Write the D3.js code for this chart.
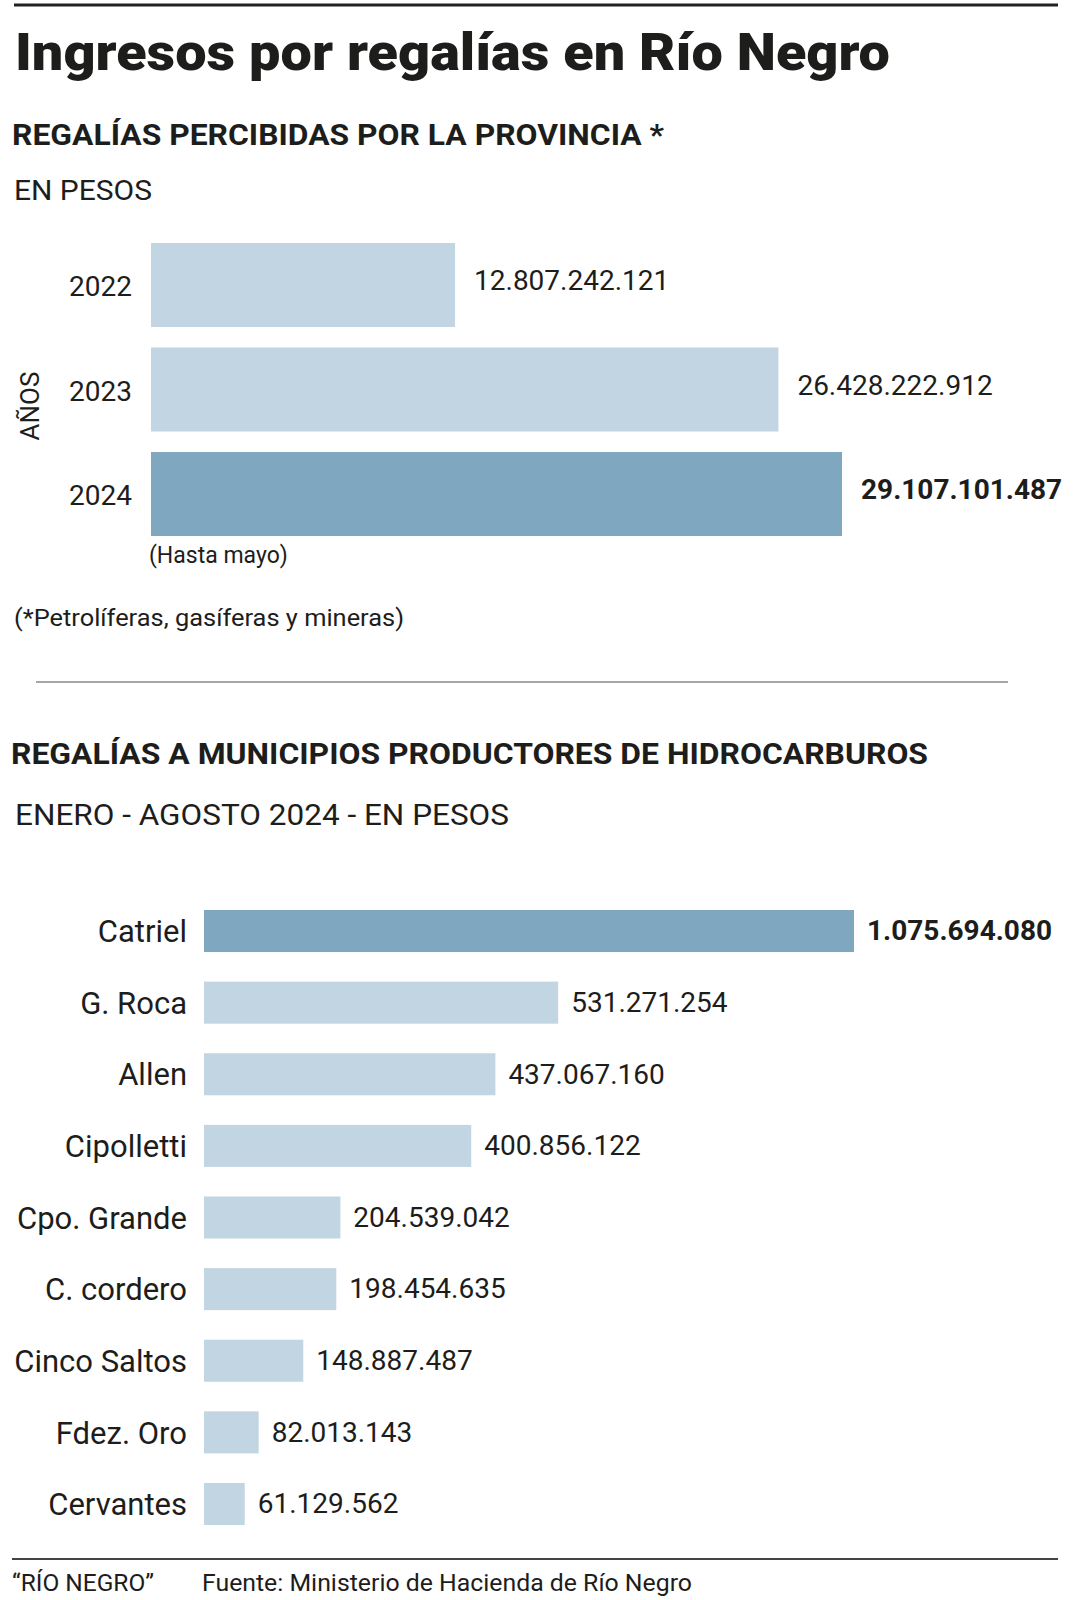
<!DOCTYPE html>
<html>
<head>
<meta charset="utf-8">
<script src="https://cdn.jsdelivr.net/npm/d3@7"></script>
<style>
  body { margin: 0; background: #fff; }
  text { font-family: Roboto, "Liberation Sans", sans-serif; fill: #1d1d1b; }
</style>
</head>
<body>
<script>
const years = ['2022', '2023', '2024'];
const provinceValues = [12807242121, 26428222912, 29107101487];
const highlightYear = '2024';

const municipalities = ['Catriel', 'G. Roca', 'Allen', 'Cipolletti', 'Cpo. Grande',
                        'C. cordero', 'Cinco Saltos', 'Fdez. Oro', 'Cervantes'];
const municipalValues = [1075694080, 531271254, 437067160, 400856122, 204539042,
                         198454635, 148887487, 82013143, 61129562];
const highlightMunicipality = 'Catriel';

const width = 1074;
const height = 1600;
const lightBlue = '#c2d5e3';
const darkBlue = '#7fa8c0';

// Spanish number format: 12.807.242.121
const fmt = d3.formatLocale({ decimal: ',', thousands: '.', grouping: [3], currency: ['$', ''] }).format(',d');

const svg = d3.select('body')
    .append('svg')
    .attr('width', width)
    .attr('height', height);

// Header rule
svg.append('line')
    .attr('x1', 14).attr('x2', 1058)
    .attr('y1', 5).attr('y2', 5)
    .attr('stroke', '#222').attr('stroke-width', 3);

svg.append('text')
    .attr('x', 15).attr('y', 70)
    .attr('font-size', 52).attr('font-weight', 900)
    .attr('textLength', 875).attr('lengthAdjust', 'spacingAndGlyphs')
    .text('Ingresos por regalías en Río Negro');

// ---------- Chart 1: provincia ----------
svg.append('text')
    .attr('x', 12).attr('y', 145)
    .attr('font-size', 29).attr('font-weight', 700)
    .attr('textLength', 652).attr('lengthAdjust', 'spacingAndGlyphs')
    .text('REGALÍAS PERCIBIDAS POR LA PROVINCIA *');

svg.append('text')
    .attr('x', 14).attr('y', 200)
    .attr('font-size', 28)
    .attr('textLength', 138).attr('lengthAdjust', 'spacingAndGlyphs')
    .text('EN PESOS');

const y1 = d3.scaleBand()
    .domain(years)
    .range([243, 536])
    .paddingInner(0.196);

const x1 = d3.scaleLinear()
    .domain([0, d3.max(provinceValues)])
    .range([151, 842]);

const rows1 = years.map((y, i) => ({ year: y, value: provinceValues[i] }));

svg.selectAll('.bar1')
    .data(rows1)
    .enter()
    .append('rect')
    .attr('class', 'bar1')
    .attr('x', x1(0))
    .attr('y', d => y1(d.year))
    .attr('width', d => x1(d.value) - x1(0))
    .attr('height', y1.bandwidth())
    .attr('fill', d => d.year === highlightYear ? darkBlue : lightBlue);

svg.selectAll('.val1')
    .data(rows1)
    .enter()
    .append('text')
    .attr('class', 'val1')
    .attr('x', d => x1(d.value) + 19)
    .attr('y', d => y1(d.year) + y1.bandwidth() / 2)
    .attr('dy', '0.18em')
    .attr('font-size', 28)
    .attr('font-weight', d => d.year === highlightYear ? 700 : 400)
    .text(d => fmt(d.value));

const yAxis1 = svg.append('g')
    .attr('transform', `translate(${x1(0)},0)`)
    .call(d3.axisLeft(y1).tickSize(0).tickPadding(19));
yAxis1.select('.domain').remove();
yAxis1.selectAll('text')
    .attr('font-size', 28)
    .attr('font-family', null)
    .attr('dy', '0.4em')
    .style('fill', '#1d1d1b');

svg.append('text')
    .attr('transform', 'translate(30,406) rotate(-90)')
    .attr('text-anchor', 'middle')
    .attr('dy', '0.35em')
    .attr('font-size', 26)
    .text('AÑOS');

svg.append('text')
    .attr('x', 149).attr('y', 563)
    .attr('font-size', 23)
    .text('(Hasta mayo)');

svg.append('text')
    .attr('x', 14).attr('y', 626)
    .attr('font-size', 23)
    .attr('textLength', 390).attr('lengthAdjust', 'spacingAndGlyphs')
    .text('(*Petrolíferas, gasíferas y mineras)');

// Separator
svg.append('line')
    .attr('x1', 36).attr('x2', 1008)
    .attr('y1', 682).attr('y2', 682)
    .attr('stroke', '#888').attr('stroke-width', 1.5);

// ---------- Chart 2: municipios ----------
svg.append('text')
    .attr('x', 11).attr('y', 764)
    .attr('font-size', 29).attr('font-weight', 700)
    .attr('textLength', 917).attr('lengthAdjust', 'spacingAndGlyphs')
    .text('REGALÍAS A MUNICIPIOS PRODUCTORES DE HIDROCARBUROS');

svg.append('text')
    .attr('x', 15).attr('y', 825)
    .attr('font-size', 29)
    .attr('textLength', 494).attr('lengthAdjust', 'spacingAndGlyphs')
    .text('ENERO - AGOSTO 2024 - EN PESOS');

const y2 = d3.scaleBand()
    .domain(municipalities)
    .range([910, 1525])
    .paddingInner(0.413);

// Catriel's bar is cut short in the original, so the scale is clamped
const x2 = d3.scaleLinear()
    .domain([0, 975e6])
    .range([204, 854])
    .clamp(true);

const rows2 = municipalities.map((m, i) => ({ name: m, value: municipalValues[i] }));

svg.selectAll('.bar2')
    .data(rows2)
    .enter()
    .append('rect')
    .attr('class', 'bar2')
    .attr('x', x2(0))
    .attr('y', d => y2(d.name))
    .attr('width', d => x2(d.value) - x2(0))
    .attr('height', y2.bandwidth())
    .attr('fill', d => d.name === highlightMunicipality ? darkBlue : lightBlue);

svg.selectAll('.val2')
    .data(rows2)
    .enter()
    .append('text')
    .attr('class', 'val2')
    .attr('x', d => x2(d.value) + 13)
    .attr('y', d => y2(d.name) + y2.bandwidth() / 2)
    .attr('dy', '0.33em')
    .attr('font-size', 28)
    .attr('font-weight', d => d.name === highlightMunicipality ? 700 : 400)
    .text(d => fmt(d.value));

const yAxis2 = svg.append('g')
    .attr('transform', `translate(${x2(0)},0)`)
    .call(d3.axisLeft(y2).tickSize(0).tickPadding(17));
yAxis2.select('.domain').remove();
yAxis2.selectAll('text')
    .attr('font-size', 31)
    .attr('font-family', null)
    .attr('dy', '0.36em')
    .style('fill', '#1d1d1b');

// Footer
svg.append('line')
    .attr('x1', 12).attr('x2', 1058)
    .attr('y1', 1559).attr('y2', 1559)
    .attr('stroke', '#444').attr('stroke-width', 2);

svg.append('text')
    .attr('x', 12).attr('y', 1591)
    .attr('font-size', 24)
    .attr('textLength', 142).attr('lengthAdjust', 'spacingAndGlyphs')
    .text('“RÍO NEGRO”');

svg.append('text')
    .attr('x', 202).attr('y', 1591)
    .attr('font-size', 24)
    .attr('textLength', 490).attr('lengthAdjust', 'spacingAndGlyphs')
    .text('Fuente: Ministerio de Hacienda de Río Negro');
</script>
</body>
</html>
